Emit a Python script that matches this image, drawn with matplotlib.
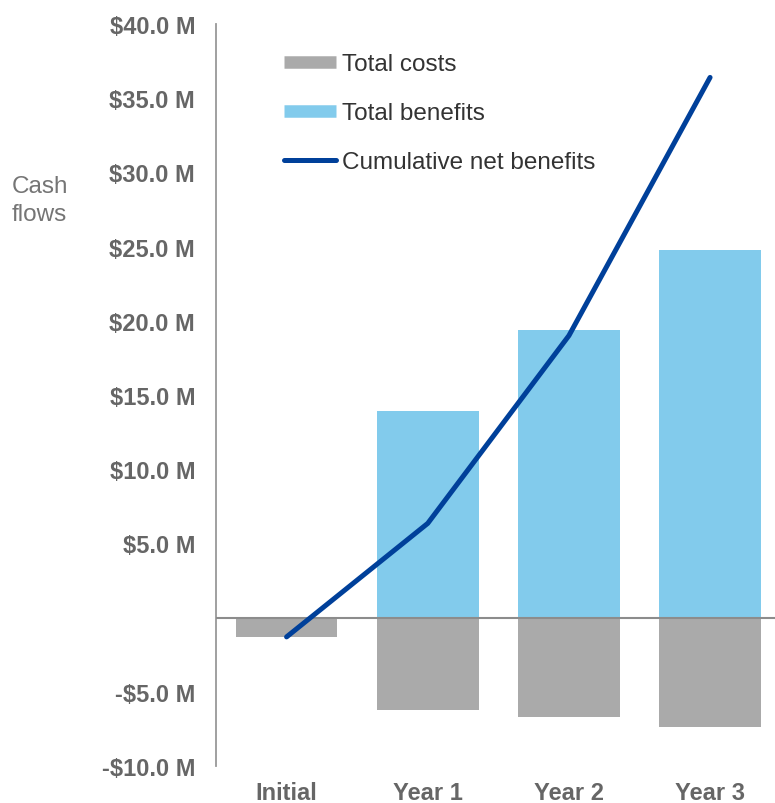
import matplotlib
matplotlib.use("Agg")
import matplotlib.pyplot as plt
from matplotlib.lines import Line2D

categories = ["Initial", "Year 1", "Year 2", "Year 3"]
total_costs = [-1.3, -6.25, -6.7, -7.4]
total_benefits = [0.0, 13.9, 19.4, 24.8]
cumulative_net = [-1.3, 6.35, 19.0, 36.4]
yticks = [40, 35, 30, 25, 20, 15, 10, 5, -5, -10]

plt.rcParams['font.family'] = ['Liberation Sans', 'DejaVu Sans']

fig = plt.figure(figsize=(7.75, 8.04), dpi=100)
ax = fig.add_axes([216/775, 37/804, 1 - 216/775, (767-25)/804])

x = list(range(len(categories)))
ax.bar(x, total_benefits, width=0.72, color="#82CBEC", zorder=2)
ax.bar(x, total_costs, width=0.72, color="#AAAAAA", zorder=2)
ax.axhline(0, color="#8C8C8C", lw=1.5, zorder=3)
ax.plot(x, cumulative_net, color="#00409A", lw=3.6, solid_capstyle="round",
        solid_joinstyle="round", zorder=4)

ax.set_xlim(-0.5, 3.46)
ax.set_ylim(-10, 40)
ax.set_yticks(yticks)
ax.set_yticklabels([f"-${abs(v):.1f} M" if v < 0 else f"${v:.1f} M" for v in yticks],
                   fontsize=17, fontweight="bold", color="#666666")
ax.set_xticks(x)
ax.set_xticklabels(categories, fontsize=17, fontweight="bold", color="#666666")
ax.tick_params(axis="both", length=0)
ax.tick_params(axis="y", pad=15)
ax.tick_params(axis="x", pad=11)

for s in ["top", "right", "bottom"]:
    ax.spines[s].set_visible(False)
ax.spines["left"].set_color("#999999")
ax.spines["left"].set_linewidth(1.3)

fig.text(12/775, 1 - 201/804, "Cash\nflows", fontsize=17.5, color="#757575",
         ha="left", va="center", linespacing=1.3)

handles = [
    Line2D([0], [0], color="#AAAAAA", lw=9, solid_capstyle="butt"),
    Line2D([0], [0], color="#82CBEC", lw=9, solid_capstyle="butt"),
    Line2D([0], [0], color="#00409A", lw=3.6, solid_capstyle="round"),
]
labels = ["Total costs", "Total benefits", "Cumulative net benefits"]
leg = fig.legend(handles, labels, loc="upper left",
                 bbox_to_anchor=(284/775, 1 - 54/804), frameon=False,
                 fontsize=17.5, handlelength=2.15, handletextpad=0.22,
                 labelspacing=1.12, borderaxespad=0, borderpad=0)
for t in leg.get_texts():
    t.set_color("#333333")

fig.savefig("out.png", dpi=100)
